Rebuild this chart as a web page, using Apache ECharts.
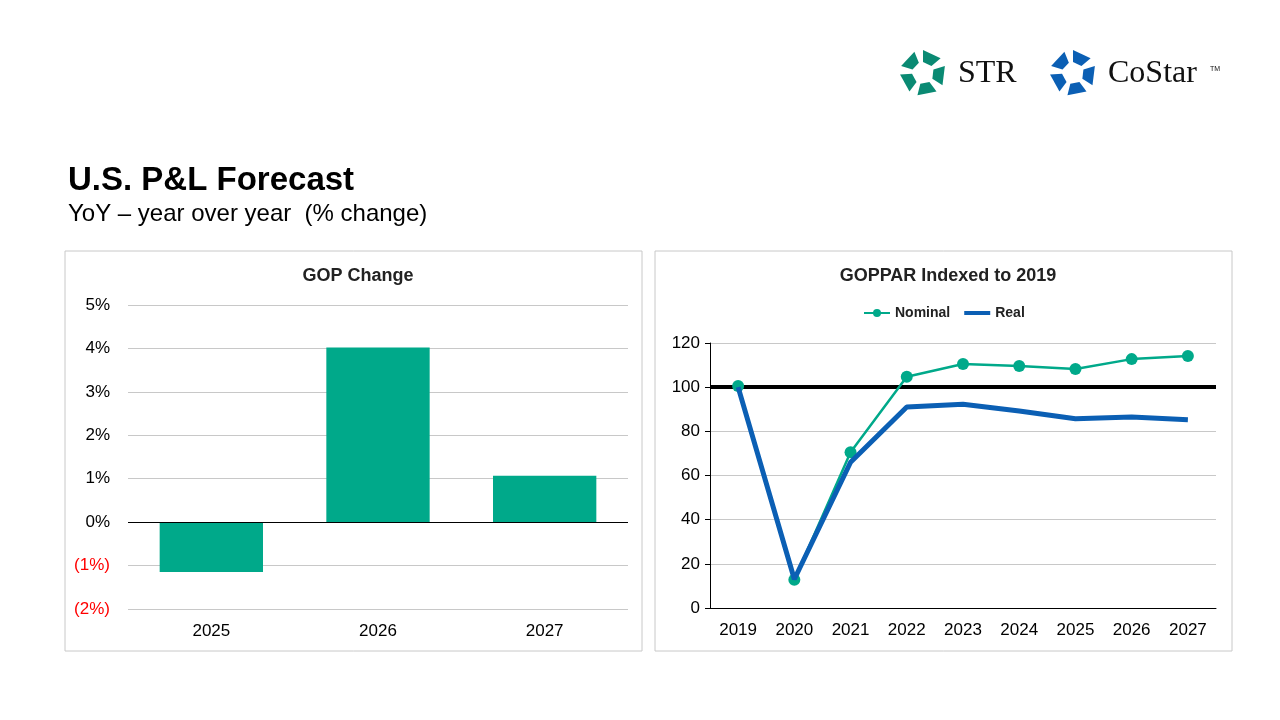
<!DOCTYPE html>
<html><head><meta charset="utf-8">
<script src="https://cdn.jsdelivr.net/npm/echarts@6/dist/echarts.min.js"></script>
<style>html,body{margin:0;padding:0;background:#fff}#main{width:1280px;height:720px}</style>
</head><body><div id="main"></div>
<script>
var barYears=['2025','2026','2027'];
var gopChange=[-1.15,4.02,1.07];
var lineYears=['2019','2020','2021','2022','2023','2024','2025','2026','2027'];
var nominal=[100.5,12.8,70.5,104.7,110.5,109.6,108.2,112.7,114.1];
var real=[100,13,66,91,92.3,89.2,85.7,86.5,85.3];

var green='#00a98a', blue='#0b5fb4';
var font='Arial, "Liberation Sans", sans-serif';

function logoIcon(cx,cy,color){
  // five blocks arranged in a pentagon ring
  var items=[];
  for(var k=0;k<5;k++){
    var a=(-90+k*72)*Math.PI/180, b=a+50*Math.PI/180;
    var r1=11,r2=23;
    items.push({type:'polygon',shape:{points:[
      [cx+r1*Math.cos(a),cy+r1*Math.sin(a)],[cx+r2*Math.cos(a),cy+r2*Math.sin(a)],
      [cx+r2*Math.cos(b),cy+r2*Math.sin(b)],[cx+r1*Math.cos(b),cy+r1*Math.sin(b)]]},
      style:{fill:color}});
  }
  return items;
}

var chart=echarts.init(document.getElementById('main'));
var graphics=[
  {type:'rect',shape:{x:65,y:251,width:577,height:400},style:{fill:'none',stroke:'#c8c8c8',lineWidth:1}},
  {type:'rect',shape:{x:655,y:251,width:577,height:400},style:{fill:'none',stroke:'#c8c8c8',lineWidth:1}},
  {type:'text',left:68,top:164,style:{text:'U.S. P&L Forecast',font:'bold 33px '+font,fill:'#000'}},
  {type:'text',left:68,top:202,style:{text:'YoY \u2013 year over year  (% change)',font:'24px '+font,fill:'#000'}},
  {type:'text',left:958,top:58,style:{text:'STR',font:'32px "Liberation Serif", serif',fill:'#111'}},
  {type:'text',left:1108,top:58,style:{text:'CoStar',font:'32px "Liberation Serif", serif',fill:'#111'}},
  {type:'text',left:1210,top:66,style:{text:'TM',font:'7px '+font,fill:'#111'}}
].concat(logoIcon(923,73,'#0a8a73')).concat(logoIcon(1073,73,'#0b5fb4'));

chart.setOption({
  animation:false,
  textStyle:{fontFamily:font},
  graphic:graphics,
  title:[
    {text:'GOP Change',left:353,top:262,textAlign:'center',textStyle:{fontSize:18,fontWeight:'bold',color:'#222'}},
    {text:'GOPPAR Indexed to 2019',left:943,top:262,textAlign:'center',textStyle:{fontSize:18,fontWeight:'bold',color:'#222'}}
  ],
  legend:{data:[{name:'Nominal'},{name:'Real',icon:'path://M0,4L26,4L26,8L0,8Z'}],left:858,top:301,itemWidth:26,itemHeight:10,itemGap:14,
    textStyle:{fontSize:14,fontWeight:'bold',color:'#222'}},
  grid:[
    {left:128,top:305,width:500,height:304},
    {left:710,top:343,width:506,height:265}
  ],
  xAxis:[
    {type:'category',gridIndex:0,data:barYears,
      axisLine:{show:false},axisTick:{show:false},
      axisLabel:{fontSize:17,color:'#000',margin:14}},
    {type:'category',gridIndex:1,data:lineYears,
      axisLine:{lineStyle:{color:'#000'}},axisTick:{show:false},
      axisLabel:{fontSize:17,color:'#000',margin:14}}
  ],
  yAxis:[
    {type:'value',gridIndex:0,min:-2,max:5,interval:1,
      axisLine:{show:false},axisTick:{show:false},
      splitLine:{lineStyle:{color:'#c8c8c8'}},
      axisLabel:{fontSize:17,margin:18,formatter:function(v){return v<0?'{r|('+(-v)+'%)}':v+'%';},
        color:'#000',rich:{r:{color:'#ff0000',fontSize:17}}}},
    {type:'value',gridIndex:1,min:0,max:120,interval:20,
      axisLine:{show:true,lineStyle:{color:'#000'}},axisTick:{show:true,length:5,lineStyle:{color:'#000'}},
      splitLine:{lineStyle:{color:'#c8c8c8'}},
      axisLabel:{fontSize:17,color:'#000',margin:10}}
  ],
  series:[
    {type:'bar',xAxisIndex:0,yAxisIndex:0,data:gopChange,barWidth:'62%',itemStyle:{color:green},
      markLine:{silent:true,symbol:'none',label:{show:false},lineStyle:{color:'#000',width:1,type:'solid'},data:[{yAxis:0}]}},
    {name:'Nominal',type:'line',xAxisIndex:1,yAxisIndex:1,data:nominal,symbol:'circle',symbolSize:12,
      itemStyle:{color:green},lineStyle:{color:green,width:2.5},z:2,
      markLine:{silent:true,symbol:'none',label:{show:false},lineStyle:{color:'#000',width:4,type:'solid'},data:[{yAxis:100}],z:1}},
    {name:'Real',type:'line',xAxisIndex:1,yAxisIndex:1,data:real,symbol:'none',
      itemStyle:{color:blue},lineStyle:{color:blue,width:5},z:3}
  ]
});
</script></body></html>
